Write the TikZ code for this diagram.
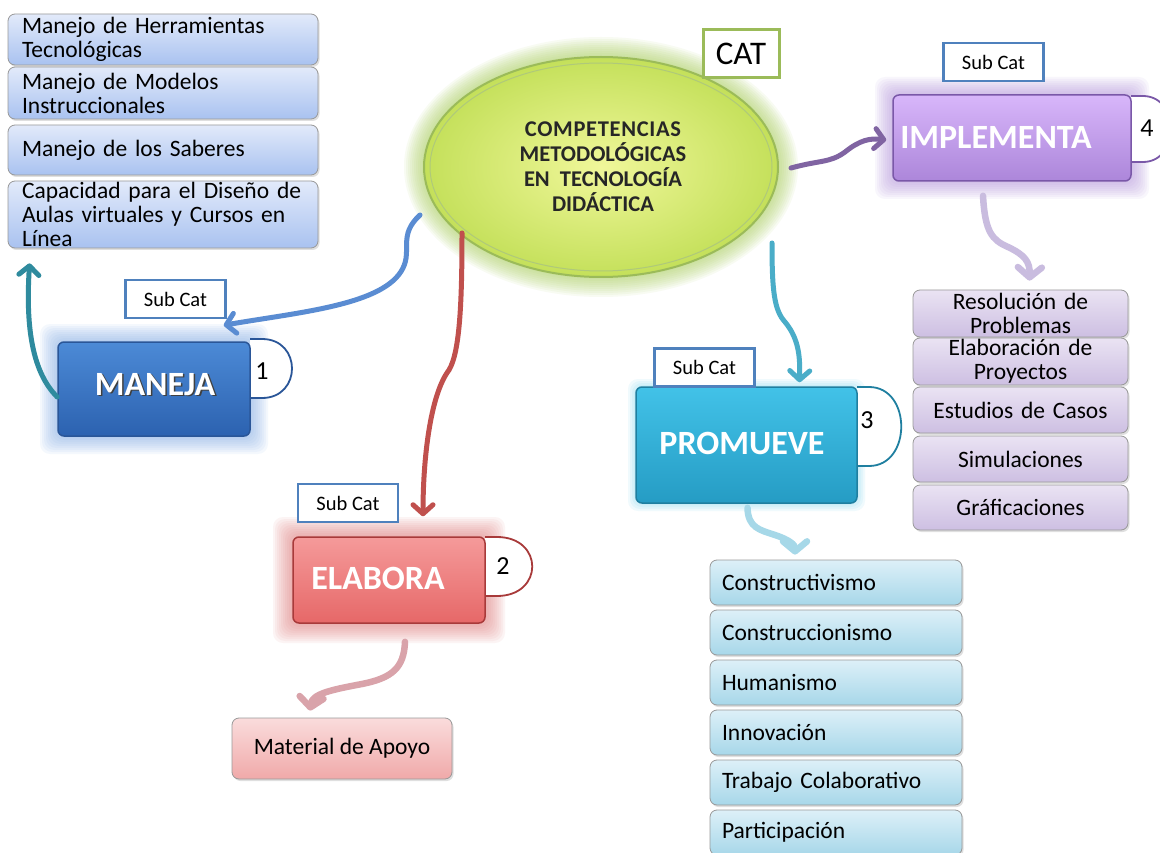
\documentclass[tikz,border=0pt]{standalone}
\usepackage{fontspec}
\setmainfont{Carlito}
\usetikzlibrary{arrows.meta,calc,shapes.geometric,shadows}

% item fills
\definecolor{lblueT}{HTML}{E2EAFA}
\definecolor{lblueB}{HTML}{A9C2F0}
\definecolor{lpurT}{HTML}{EAE3F3}
\definecolor{lpurB}{HTML}{CDBFE2}
\definecolor{lcyanT}{HTML}{DDF0F8}
\definecolor{lcyanB}{HTML}{A7D7E9}
\definecolor{lredT}{HTML}{FADCDC}
\definecolor{lredB}{HTML}{F0A9A9}
% category boxes
\definecolor{manT}{HTML}{4C8AD6}
\definecolor{manB}{HTML}{2C62B0}
\definecolor{manD}{HTML}{2A5698}
\definecolor{manG}{HTML}{7EAAE6}
\definecolor{elaT}{HTML}{F59A9A}
\definecolor{elaB}{HTML}{E66868}
\definecolor{elaD}{HTML}{A83A3A}
\definecolor{elaG}{HTML}{E27C7C}
\definecolor{proT}{HTML}{42C2E8}
\definecolor{proB}{HTML}{259CC4}
\definecolor{proD}{HTML}{1F7FA0}
\definecolor{impT}{HTML}{D8B6FA}
\definecolor{impB}{HTML}{AC86DA}
\definecolor{impD}{HTML}{7A58A8}
\definecolor{impG}{HTML}{B08EDA}
% central ellipse
\definecolor{ellIn}{HTML}{F0F79A}
\definecolor{ellOut}{HTML}{C4E05A}
\definecolor{ellLine}{HTML}{9BBB59}
\definecolor{ellG}{HTML}{A9CF5A}
\definecolor{subLine}{HTML}{4F81BD}
% connectors
\definecolor{arrBlue}{HTML}{5A8CD2}
\definecolor{arrTeal}{HTML}{2F8B9E}
\definecolor{arrRed}{HTML}{C0504D}
\definecolor{arrCyan}{HTML}{4AADC8}
\definecolor{arrPurple}{HTML}{8064A2}
\definecolor{arrLPur}{HTML}{C9BCDF}
\definecolor{arrLCyan}{HTML}{A6D8E8}
\definecolor{arrLRed}{HTML}{D9A3AA}

\tikzset{
  itembase/.style={draw=black!40, line width=0.8pt, rounded corners=7pt, inner ysep=0pt,
    font=\fontsize{23.5}{24}\selectfont,
    drop shadow={opacity=0.25, shadow xshift=1.5pt, shadow yshift=-2pt}},
  lefti/.style={itembase, top color=lblueT, bottom color=lblueB, minimum width=310pt,
    text width=282pt, inner xsep=14pt, align=left},
  righti/.style={itembase, top color=lpurT, bottom color=lpurB, minimum width=215pt,
    text width=205pt, inner xsep=5pt, align=center},
  cyani/.style={itembase, top color=lcyanT, bottom color=lcyanB, minimum width=252pt,
    text width=228pt, inner xsep=12pt, align=left},
  mainbox/.style={rounded corners=6pt, line width=1.5pt, inner sep=0pt},
  maintext/.style={font=\bfseries\fontsize{34}{34}\selectfont, text=white, inner sep=0pt},
  subcat/.style={draw=subLine, line width=2.5pt, fill=white, minimum width=100pt,
    minimum height=38pt, inner sep=0pt, font=\fontsize{20.5}{20.5}\selectfont},
  tabnum/.style={font=\fontsize{26}{26}\selectfont, inner sep=0pt},
  tabshape/.style={fill=white, line width=1.8pt},
  flow/.style={line width=5pt, line cap=round, -{Straight Barb[length=9pt,width=20pt,round]}},
  softflow/.style={line width=6.5pt, line cap=round, -{Straight Barb[length=10pt,width=24pt,round]}}
}

% soft glow round a rectangle: colour, x0, y0, x1, y1, steps
\newcommand\halo[6]{%
  \foreach \g in {1,...,#6}{%
    \fill[#1, opacity=0.08, rounded corners=10pt] ({#2-2*\g},{#3-2*\g}) rectangle ({#4+2*\g},{#5+2*\g});}}
% white title with a dark edge below it
\newcommand\edged[1]{\makebox[0pt][l]{\hspace{1.6pt}\raisebox{-1.6pt}{\color{black!75}#1}}#1}

\begin{document}
\begin{tikzpicture}[x=1pt,y=-1pt]
\useasboundingbox (0,0) rectangle (1160,853);
\fill[white] (0,0) rectangle (1160,853);

% glows behind the category shapes
\foreach \g [evaluate=\g as \rx using 177+2*\g, evaluate=\g as \ry using 110+2*\g] in {1,...,10}
  \fill[ellG, opacity=0.08] (601,167) ellipse [x radius=\rx, y radius=\ry];
\halo{impG}{893}{95}{1131}{181}{9}
\halo{manG}{58}{342}{250}{436}{9}
\halo{elaG}{293}{537}{485}{623}{10}
\halo{proT}{636}{387}{857}{503}{4}

% central concept
\node[ellipse, minimum width=354pt, minimum height=220pt, inner sep=0pt,
      shade, inner color=ellIn, outer color=ellOut, draw=ellLine, line width=2pt]
  (ell) at (601,167) {};
\draw[ellLine!80, line width=1pt] (601,167) ellipse [x radius=171, y radius=104];
\node[align=center, inner sep=0pt, font=\bfseries\fontsize{22.5}{25}\selectfont, text=black!85]
  (ellT) at (603,167) {\addfontfeature{LetterSpace=3}COMPETENCIAS\\METODOLÓGICAS\\EN~ TECNOLOGÍA\\DIDÁCTICA};
\node[draw=ellLine, line width=3pt, fill=white, minimum width=76pt, minimum height=48pt,
      inner sep=0pt, font=\fontsize{33}{33}\selectfont] (cat) at (741,54) {CAT};

% left list
\node[lefti, minimum height=51pt] (h1) at (163,39.5) {Manejo de Herramientas\\Tecnológicas};
\node[lefti, minimum height=52pt] (h2) at (163,93) {Manejo de Modelos\\Instruccionales};
\node[lefti, minimum height=50pt] (h3) at (163,150) {Manejo de los Saberes};
\node[lefti, minimum height=67pt] (h4) at (163,214.5) {Capacidad para el Diseño de\\Aulas virtuales y Cursos en\\Línea};

% right list
\node[righti, minimum height=47pt] (r1) at (1020.5,313.5) {Resolución de\\Problemas};
\node[righti, minimum height=47pt] (r2) at (1020.5,361.5) {Elaboración de\\Proyectos};
\node[righti, minimum height=46pt] (r3) at (1020.5,410) {Estudios de Casos};
\node[righti, minimum height=46pt] (r4) at (1020.5,459) {Simulaciones};
\node[righti, minimum height=45pt] (r5) at (1020.5,507.5) {Gráficaciones};

% lower list
\node[cyani, minimum height=45pt] (b1) at (836,582.5) {Constructivismo};
\node[cyani, minimum height=45pt] (b2) at (836,632.5) {Construccionismo};
\node[cyani, minimum height=45pt] (b3) at (836,682.5) {Humanismo};
\node[cyani, minimum height=45pt] (b4) at (836,732.5) {Innovación};
\node[cyani, minimum height=45pt] (b5) at (836,782.5) {Trabajo Colaborativo};
\node[cyani, minimum height=45pt] (b6) at (836,832.5) {Participación};

\node[itembase, top color=lredT, bottom color=lredB, minimum width=220pt, minimum height=61pt,
      align=center] (mat) at (342,748.5) {Material de Apoyo};

% number tabs
\draw[tabshape, draw=impD] (1131,96) -- (1143,96) .. controls (1180,96) and (1180,162) .. (1143,162) -- (1131,162);
\draw[tabshape, draw=manD] (250,339) -- (262,339) .. controls (302,339) and (302,398) .. (262,398) -- (250,398);
\draw[tabshape, draw=elaD] (485,537) -- (497,537) .. controls (544,537) and (544,596) .. (497,596) -- (485,596);
\draw[tabshape, draw=proD] (857,387) -- (869,387) .. controls (912,387) and (912,466) .. (869,466) -- (857,466);
\node[tabnum] (n4) at (1147,128) {4};
\node[tabnum] (n1) at (262,371) {1};
\node[tabnum] (n2) at (503,566) {2};
\node[tabnum] (n3) at (867,420) {3};

% category boxes
\node[mainbox, top color=impT, bottom color=impB, draw=impD, minimum width=238pt,
      minimum height=86pt] (imp) at (1012,138) {};
\node[maintext] (impL) at (996,137) {IMPLEMENTA};
\node[mainbox, top color=manT, bottom color=manB, draw=manD, minimum width=192pt,
      minimum height=94pt] (man) at (154,389) {};
\node[maintext] (manL) at (155,385) {\edged{MANEJA}};
\node[mainbox, top color=elaT, bottom color=elaB, draw=elaD, minimum width=192pt,
      minimum height=86pt] (ela) at (389,580) {};
\node[maintext] (elaL) at (378,578) {ELABORA};
\node[mainbox, top color=proT, bottom color=proB, draw=proD, minimum width=221pt,
      minimum height=116pt] (pro) at (746.5,445) {};
\node[maintext] (proL) at (742,443) {PROMUEVE};

% sub-category tags
\node[subcat] (s4) at (993.5,62) {Sub Cat};
\node[subcat] (s1) at (175.5,299) {Sub Cat};
\node[subcat] (s2) at (348,503) {Sub Cat};
\node[subcat] (s3) at (704.5,367.5) {Sub Cat};

% connectors from the central concept
\draw[flow, arrBlue] ($(ell.center)+(-181,48)$) .. controls (398,235) and (412,250) .. (403,268)
  .. controls (385,305) and (300,312) .. ($(man.north east)+(-27,-16)$);
\draw[flow, arrRed] ($(ell.center)+(-139,66)$) .. controls (462,300) and (460,352) .. (449,370)
  .. controls (430,395) and (423,460) .. ($(ela.north)+(34,-20)$);
\draw[flow, arrCyan] ($(ell.center)+(171,76)$) .. controls (772,290) and (774,310) .. (785,322)
  .. controls (800,340) and (800,360) .. ($(pro.north)+(53,-4)$);
\draw[flow, arrPurple] ($(ell.center)+(190,1)$) .. controls (820,160) and (830,163) .. (845,152)
  .. controls (860,140) and (870,138) .. ($(imp.west)+(-6,2)$);

% connectors from the categories to their lists
\draw[flow, arrTeal] ($(man.west)+(0,8)$) .. controls (30,370) and (26,320) .. ($(h4.south west)+(22,15)$);
\draw[softflow, arrLPur] ($(imp.south)+(-29,14)$) .. controls (985,232) and (992,240) .. (1008,247)
  .. controls (1025,255) and (1030,262) .. ($(r1.north)+(9,-9)$);
\draw[softflow, arrLCyan] ($(pro.south)+(1,4)$) .. controls (748,528) and (760,530) .. (775,535)
  .. controls (790,540) and (795,545) .. ($(b1.north)+(-41,-5)$);
\draw[softflow, arrLRed] ($(ela.south)+(16,18)$) .. controls (404,668) and (392,678) .. (362,684)
  .. controls (330,690) and (312,694) .. ($(mat.north)+(-32,-7)$);
\end{tikzpicture}
\end{document}
